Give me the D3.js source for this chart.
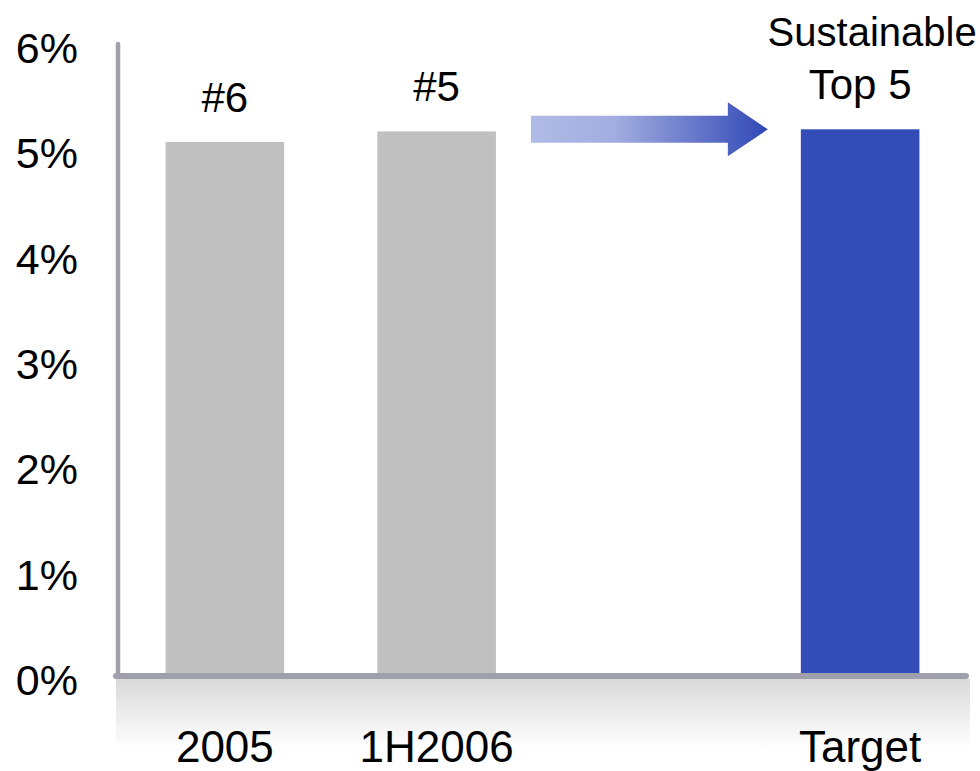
<!DOCTYPE html>
<html>
<head>
<meta charset="utf-8">
<script src="https://cdn.jsdelivr.net/npm/d3@7"></script>
<style>
  html, body { margin: 0; padding: 0; background: #fff; }
  svg { display: block; }
  text { font-family: "Liberation Sans", Arial, sans-serif; fill: #000; }
</style>
</head>
<body>
<svg id="chart" width="980" height="771"></svg>
<script>
// Market share by period (percent); the empty slot holds the arrow
const categories = ["2005", "1H2006", "", "Target"];
const shares = [5.07, 5.17, null, 5.19];
const rankLabels = [["#6"], ["#5"], null, ["Sustainable", "Top 5"]];
const yTicks = [0, 1, 2, 3, 4, 5, 6];

const svg = d3.select("#chart");
const defs = svg.append("defs");

const x = d3.scaleBand().domain(categories).range([119, 966])
  .paddingInner(0.44).paddingOuter(0.22);
const y = d3.scaleLinear().domain([0, 6]).range([676, 44]);

const axisColor = "#a0a0ac";

// floor shading beneath the baseline
const floorGrad = defs.append("linearGradient").attr("id", "floor")
  .attr("x1", 0).attr("y1", 0).attr("x2", 0).attr("y2", 1);
floorGrad.append("stop").attr("offset", 0).attr("stop-color", "#d9d9d9");
floorGrad.append("stop").attr("offset", 0.75).attr("stop-color", "#ffffff");
svg.append("rect").attr("x", 116).attr("y", y(0) + 3)
  .attr("width", 854).attr("height", 771 - y(0) - 3)
  .attr("fill", "url(#floor)");

// bars
const barColor = d => d === "Target" ? "#334cb8" : "#c0c0c0";
const data = categories.map((c, i) => ({ c, v: shares[i], lab: rankLabels[i] }))
  .filter(d => d.v != null);

svg.append("g").selectAll("rect").data(data).join("rect")
  .attr("x", d => x(d.c))
  .attr("y", d => y(d.v))
  .attr("width", x.bandwidth())
  .attr("height", d => y(0) - y(d.v))
  .attr("fill", d => barColor(d.c));

// rank labels above the bars
data.forEach(d => {
  const lines = d.lab;
  const cx = x(d.c) + x.bandwidth() / 2;
  lines.forEach((t, j) => {
    const k = lines.length - 1 - j;
    svg.append("text")
      .attr("x", cx + (k > 0 ? 12 : 0))
      .attr("y", y(d.v) - 30 - k * 53)
      .attr("text-anchor", "middle")
      .attr("font-size", k > 0 ? 40 : 42)
      .text(t);
  });
});

// gradient arrow pointing toward the target
const arrowGrad = defs.append("linearGradient").attr("id", "arrowGrad")
  .attr("x1", 0).attr("y1", 0).attr("x2", 1).attr("y2", 0);
arrowGrad.append("stop").attr("offset", 0).attr("stop-color", "#b0bbe6");
arrowGrad.append("stop").attr("offset", 0.35).attr("stop-color", "#a3ade0");
arrowGrad.append("stop").attr("offset", 1).attr("stop-color", "#3148b6");

const ax0 = x("1H2006") + x.bandwidth() + 35;
const ax1 = x("Target") - 33;
const ay = y(shares[3]);
const headW = 40, shaftH = 13.5, headH = 27;
const arrowPath = d3.path();
arrowPath.moveTo(ax0, ay - shaftH);
arrowPath.lineTo(ax1 - headW, ay - shaftH);
arrowPath.lineTo(ax1 - headW, ay - headH);
arrowPath.lineTo(ax1, ay);
arrowPath.lineTo(ax1 - headW, ay + headH);
arrowPath.lineTo(ax1 - headW, ay + shaftH);
arrowPath.lineTo(ax0, ay + shaftH);
arrowPath.closePath();
svg.append("path").attr("d", arrowPath.toString())
  .attr("fill", "url(#arrowGrad)");

// axes
svg.append("line")
  .attr("x1", 118).attr("x2", 118).attr("y1", 44).attr("y2", y(0))
  .attr("stroke", axisColor).attr("stroke-width", 4.5)
  .attr("stroke-linecap", "round");
svg.append("line")
  .attr("x1", 116).attr("x2", 966).attr("y1", y(0)).attr("y2", y(0))
  .attr("stroke", axisColor).attr("stroke-width", 6)
  .attr("stroke-linecap", "round");

// y tick labels
svg.append("g").selectAll("text").data(yTicks).join("text")
  .attr("x", 78)
  .attr("y", d => y(d) + 19)
  .attr("text-anchor", "end")
  .attr("font-size", 43)
  .text(d => d + "%");

// category labels
svg.append("g").selectAll("text").data(categories.filter(c => c !== "")).join("text")
  .attr("x", d => x(d) + x.bandwidth() / 2)
  .attr("y", 762)
  .attr("text-anchor", "middle")
  .attr("font-size", 44)
  .text(d => d);
</script>
</body>
</html>
